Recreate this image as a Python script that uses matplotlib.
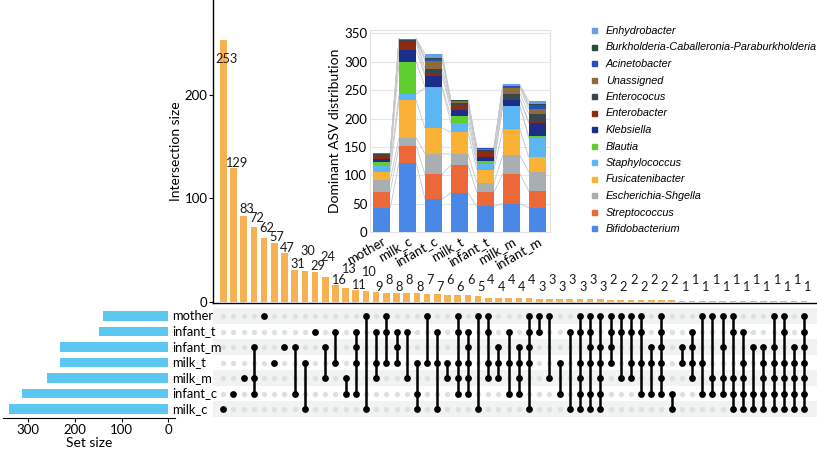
import numpy as np
import matplotlib
matplotlib.use('Agg')
import matplotlib.pyplot as plt
from matplotlib.lines import Line2D
from matplotlib.transforms import blended_transform_factory

plt.rcParams['font.family'] = ['Lato', 'DejaVu Sans']

# sets, top row of the matrix first
set_names = ['mother', 'infant_t', 'infant_m', 'milk_t', 'milk_m', 'infant_c', 'milk_c']
set_sizes = [139, 148, 231, 233, 260, 314, 341]

inter_sizes = [253, 129, 83, 72, 62, 57, 47, 31, 30, 29, 24, 16, 13, 11, 10, 9,
               8, 8, 8, 8, 7, 7, 6, 6, 6, 5, 4, 4, 4, 4, 4, 3, 3, 3, 3, 3, 3, 3,
               2, 2, 2, 2, 2, 2, 2, 1, 1, 1, 1, 1, 1, 1, 1, 1, 1, 1, 1, 1]

combos = [
    ['milk_c'],
    ['infant_c'],
    ['milk_m'],
    ['infant_m', 'milk_m', 'infant_c'],
    ['mother'],
    ['milk_t'],
    ['infant_m'],
    ['infant_m', 'infant_c'],
    ['milk_t', 'milk_c'],
    ['infant_t'],
    ['infant_m', 'milk_m'],
    ['infant_t', 'milk_t'],
    ['milk_m', 'infant_c'],
    ['infant_t', 'infant_m', 'milk_t', 'infant_c'],
    ['mother', 'milk_c'],
    ['infant_t', 'milk_t', 'milk_m'],
    ['mother', 'infant_t', 'milk_t'],
    ['infant_t', 'infant_m', 'milk_t'],
    ['infant_t', 'milk_m'],
    ['milk_t', 'infant_c', 'milk_c'],
    ['mother', 'milk_t'],
    ['infant_t', 'milk_t', 'milk_c'],
    ['milk_t', 'milk_m'],
    ['mother', 'infant_t', 'milk_t', 'milk_m', 'infant_c'],
    ['infant_t', 'infant_m', 'milk_t', 'milk_m', 'infant_c'],
    ['mother', 'milk_c'],
    ['mother', 'infant_t', 'milk_t', 'milk_m'],
    ['infant_m', 'milk_t', 'milk_m'],
    ['infant_t', 'milk_t', 'infant_c'],
    ['infant_m', 'milk_t', 'milk_m', 'infant_c'],
    ['mother', 'infant_t', 'infant_m', 'milk_t', 'milk_c'],
    ['mother', 'infant_t'],
    ['mother', 'milk_m'],
    ['milk_t', 'infant_c'],
    ['infant_t', 'milk_c'],
    ['mother', 'infant_t', 'milk_t', 'milk_m', 'infant_c', 'milk_c'],
    ['mother', 'infant_t', 'infant_m', 'milk_t', 'infant_c', 'milk_c'],
    ['mother', 'infant_m', 'milk_t', 'milk_m', 'infant_c', 'milk_c'],
    ['mother', 'infant_t', 'infant_m', 'milk_t'],
    ['mother', 'infant_t', 'milk_m'],
    ['mother', 'infant_t', 'milk_t', 'milk_m'],
    ['mother', 'infant_t', 'milk_t', 'infant_c'],
    ['infant_m', 'milk_t', 'infant_c'],
    ['mother', 'infant_t', 'infant_m', 'milk_t', 'milk_m', 'infant_c'],
    ['infant_c', 'milk_c'],
    ['infant_m', 'milk_t'],
    ['infant_t', 'infant_m', 'milk_t', 'milk_m'],
    ['mother', 'milk_t', 'infant_c'],
    ['mother', 'milk_m', 'infant_c'],
    ['mother', 'infant_m', 'milk_m', 'infant_c'],
    ['mother', 'infant_t', 'milk_m', 'infant_c', 'milk_c'],
    ['infant_t', 'milk_t', 'milk_m', 'infant_c', 'milk_c'],
    ['infant_m', 'infant_c', 'milk_c'],
    ['infant_m', 'milk_t', 'milk_m', 'infant_c', 'milk_c'],
    ['mother', 'infant_m', 'milk_t', 'milk_m', 'infant_c', 'milk_c'],
    ['mother', 'infant_t', 'milk_t', 'milk_m', 'infant_c', 'milk_c'],
    ['infant_m', 'milk_t', 'milk_m', 'infant_c', 'milk_c'],
    ['mother', 'infant_t', 'infant_m', 'milk_t', 'milk_m', 'infant_c', 'milk_c'],
]

# inset: dominant ASV distribution per group
inset_groups = ['mother', 'milk_c', 'infant_c', 'milk_t', 'infant_t', 'milk_m', 'infant_m']
genera = ['Bifidobacterium', 'Streptococcus', 'Escherichia-Shgella', 'Fusicatenibacter',
          'Staphylococcus', 'Blautia', 'Klebsiella', 'Enterobacter', 'Enterococus',
          'Unassigned', 'Acinetobacter', 'Burkholderia-Caballeronia-Paraburkholderia',
          'Enhydrobacter']
bifido = [42, 122, 58, 69, 45, 50, 43]
strep = [29, 30, 44, 49, 25, 53, 29]
esch = [20, 14, 36, 19, 17, 32, 34]
fusi = [15, 66, 45, 39, 23, 46, 26]
staph = [11, 11, 71, 16, 10, 41, 34]
blautia = [7, 57, 2, 12, 5, 0, 3]
klebs = [5, 20, 19, 11, 8, 11, 23]
enterobacter = [5, 14, 3, 8, 8, 2, 2]
enterococus = [3, 5, 10, 4, 3, 9, 14]
unassigned = [2, 1, 13, 4, 3, 10, 9]
acineto = [0, 0, 4, 0, 1, 3, 6]
burk = [0, 1, 2, 1, 0, 1, 2]
enhydro = [0, 0, 7, 1, 0, 2, 6]
genus_values = [bifido, strep, esch, fusi, staph, blautia, klebs, enterobacter,
                enterococus, unassigned, acineto, burk, enhydro]
genus_colors = ['#4A88E8', '#EC6838', '#A9AEB3', '#F9B236', '#5DB6F4', '#5FCF2F',
                '#1B2F8A', '#8E2A12', '#38474F', '#8F6B35', '#2350C0', '#2D4A3E',
                '#6A9FE6']

W, H = 817, 450
fig = plt.figure(figsize=(W / 100, H / 100), dpi=100)


def px_axes(x0, y0, x1, y1):
    return fig.add_axes([x0 / W, 1 - y1 / H, (x1 - x0) / W, (y1 - y0) / H])


n_cols = len(inter_sizes)
n_sets = len(set_names)
xs = np.arange(n_cols)
col_xlim = (-1.01, 58.26)

# set size bars (drawn first so the set names stay on top)
ax_set = px_axes(3, 306, 175, 418)
ax_set.patch.set_visible(False)
row_y = {name: n_sets - 1 - k for k, name in enumerate(set_names)}
ax_set.barh([row_y[n] for n in set_names], set_sizes, height=0.62, color='#5BC8F2')
ax_set.set_ylim(-0.58, 6.645)
ax_set.set_xlim(354, -14.3)
for s in ['top', 'right', 'left']:
    ax_set.spines[s].set_visible(False)
ax_set.set_yticks([])
ax_set.set_xticks([0, 100, 200, 300])
ax_set.tick_params(axis='x', labelsize=9.5, length=3, pad=1)
ax_set.set_xlabel('Set size', fontsize=10, labelpad=1)

# intersection size bars
bar_ylim = (-1.3, 292)
ax_bar = px_axes(213, 0, 817, 303)
ax_bar.bar(xs, inter_sizes, width=0.65, color='#F7B152')
ax_bar.set_xlim(col_xlim)
ax_bar.set_ylim(bar_ylim)
for s in ['top', 'right']:
    ax_bar.spines[s].set_visible(False)
ax_bar.spines['bottom'].set_linewidth(1.0)
ax_bar.spines['left'].set_linewidth(1.0)
ax_bar.set_xticks([])
ax_bar.set_yticks([0, 100, 200])
ax_bar.tick_params(axis='y', labelsize=9.5, length=3, pad=1)
ax_bar.set_ylabel('Intersection size', fontsize=10, labelpad=2)

# count labels, spread out a little so neighbours do not collide
ppu = 303 / (bar_ylim[1] - bar_ylim[0])  # pixels per unit
lab_y = [min(max(v, 9), 229) + 5.6 / ppu for v in inter_sizes]
for i in range(8, n_cols, 2):
    lab_y[i] += (14 if i <= 14 else 7) / ppu
for i in range(6, 0, -1):
    lab_y[i] = max(lab_y[i], lab_y[i + 1] + 9.5 / ppu)
for i, v in enumerate(inter_sizes):
    ax_bar.annotate(str(v), (i, lab_y[i]), xytext=(2, 0), textcoords='offset points',
                    ha='center', va='center', fontsize=9.2, color='#1a1a1a',
                    annotation_clip=False)

# matrix
ax_mat = px_axes(213, 306, 817, 418)
ax_mat.set_xlim(col_xlim)
ax_mat.set_ylim(-0.58, 6.645)
for k, name in enumerate(set_names):
    if k % 2 == 0:
        ax_mat.axhspan(row_y[name] - 0.5, row_y[name] + 0.5, color='#F1F2F2', lw=0, zorder=0)
gx, gy = np.meshgrid(xs, np.arange(n_sets))
ax_mat.scatter(gx.ravel(), gy.ravel(), s=15, color='#DCE1E1', lw=0, zorder=1)
for i, combo in enumerate(combos):
    ys = [row_y[c] for c in combo]
    if len(ys) > 1:
        ax_mat.plot([i, i], [min(ys), max(ys)], color='black', lw=1.8, zorder=2)
    ax_mat.scatter([i] * len(ys), ys, s=24, color='black', lw=0, zorder=3)
ax_mat.axis('off')

# set names
tr = blended_transform_factory(fig.transFigure, ax_mat.transData)
for name in set_names:
    fig.text(172 / W, row_y[name], name, transform=tr, ha='left', va='center',
             fontsize=9.3)

# inset stacked bars
ax_in = px_axes(370, 30, 550, 232)
gpos = np.arange(len(inset_groups))
bw = 0.66
cum = np.zeros(len(inset_groups))
tops = []
for vals, col in zip(genus_values, genus_colors):
    vals = np.array(vals, dtype=float)
    ax_in.bar(gpos, vals, bottom=cum, width=bw, color=col, zorder=3)
    cum = cum + vals
    tops.append(cum.copy())
for t in tops:
    for i in range(len(gpos) - 1):
        ax_in.plot([gpos[i] + bw / 2, gpos[i + 1] - bw / 2], [t[i], t[i + 1]],
                   color='#C3C8CC', lw=0.6, zorder=2)
ax_in.set_xlim(-0.45, 6.49)
ax_in.set_ylim(0, 356)
ax_in.set_yticks(np.arange(0, 351, 50))
ax_in.yaxis.grid(True, color='#E6E6E6', lw=0.8, zorder=0)
ax_in.set_axisbelow(True)
for s in ax_in.spines.values():
    s.set_color('#E2E2E2')
    s.set_linewidth(0.8)
ax_in.tick_params(length=0, labelsize=9.5, pad=2)
ax_in.set_xticks(gpos)
ax_in.set_xticklabels(inset_groups, rotation=30, ha='right', rotation_mode='anchor')
ax_in.set_ylabel('Dominant ASV distribution', fontsize=10, labelpad=2)

# legend
handles = [Line2D([], [], marker='s', ls='', markersize=3.6, color=c)
           for c in genus_colors[::-1]]
fig.legend(handles, genera[::-1], loc='upper left', bbox_to_anchor=(590 / W, 1 - 26 / H),
           frameon=False, prop={'family': 'Liberation Sans', 'style': 'italic', 'size': 7.8},
           labelspacing=0.6, handlelength=0.7, handletextpad=0.75, borderaxespad=0,
           borderpad=0)

fig.savefig('out.png', dpi=100)
